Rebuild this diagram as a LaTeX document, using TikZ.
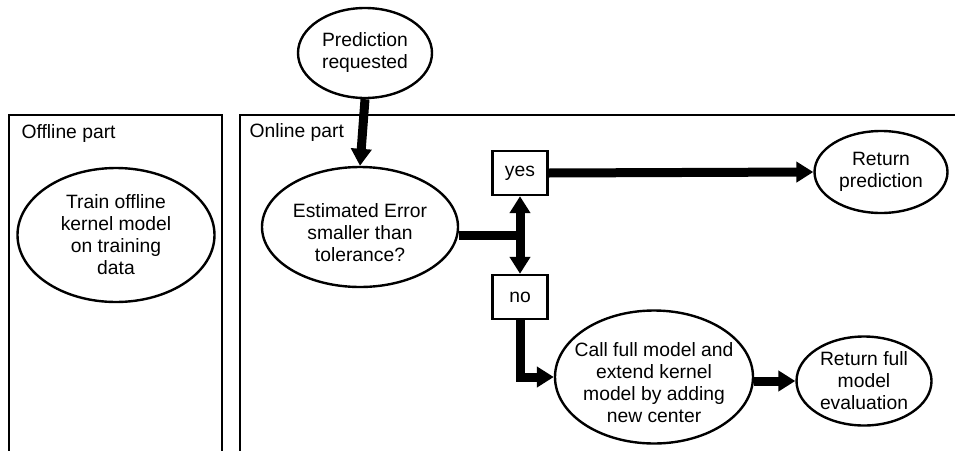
\documentclass[tikz,border=0pt]{standalone}
\usepackage{fontspec}
\setmainfont{Liberation Sans}
\usetikzlibrary{shapes.geometric,arrows.meta}
\begin{document}
\begin{tikzpicture}[x=1pt,y=-1pt,
  every node/.style={font=\fontsize{19.3}{22}\selectfont},
  oval/.style={ellipse,draw,line width=2.4pt,inner sep=-20pt,align=center},
  lowtext/.style={label={[align=center,yshift=-6pt]center:{#1}}},
  lbox/.style={rectangle,draw,line width=2.4pt,inner sep=0pt,minimum width=55pt,minimum height=44pt},
  frame/.style={line width=2.4pt},
  arr/.style={line width=9pt,-{Triangle[width=20pt,length=17pt]}},
  darr/.style={line width=9pt,{Triangle[width=20pt,length=17pt]}-{Triangle[width=20pt,length=17pt]}},
  flow/.style={line width=9pt}]
\useasboundingbox (0,0) rectangle (955,450);
% frames
\draw[frame] (9,452) -- (9,115) -- (222,115) -- (222,452);
\draw[frame] (240,452) -- (240,115) -- (958,115);
\node[anchor=base west] (offlbl) at (18,138) {Offline part};
\node[anchor=base west] (onlbl) at (246,137) {Online part};
% nodes
\node[oval,minimum width=134pt,minimum height=90pt] (pred) at (365,53) {Prediction\\requested};
\node[oval,minimum width=196pt,minimum height=120pt,lowtext={Estimated Error\\smaller than\\tolerance?}] (est) at (360,227) {};
\node[oval,minimum width=197pt,minimum height=134pt] (train) at (116,235) {Train offline\\kernel model\\on training\\data};
\node[lbox] (yes) at (520,173) {yes};
\node[lbox] (no) at (520,297) {no};
\node[oval,minimum width=133pt,minimum height=82pt] (ret) at (881,172) {Return\\prediction};
\node[oval,minimum width=198pt,minimum height=133pt,lowtext={Call full model and\\extend kernel\\model by adding\\new center}] (call) at (654,377) {};
\node[oval,minimum width=135pt,minimum height=89pt] (retfull) at (864,381) {Return full\\model\\evaluation};
\coordinate (j) at (520,235);
% connectors
\draw[arr] (pred.south) -- (est.north);
\draw[flow] (est.east |- j) -- (j);
\draw[darr] (yes.south) -- (no.north);
\draw[arr] (yes.east) -- (ret.west);
\draw[arr] (no.south) |- (call.west);
\draw[arr] (call.east |- retfull.west) -- (retfull.west);
\end{tikzpicture}
\end{document}
